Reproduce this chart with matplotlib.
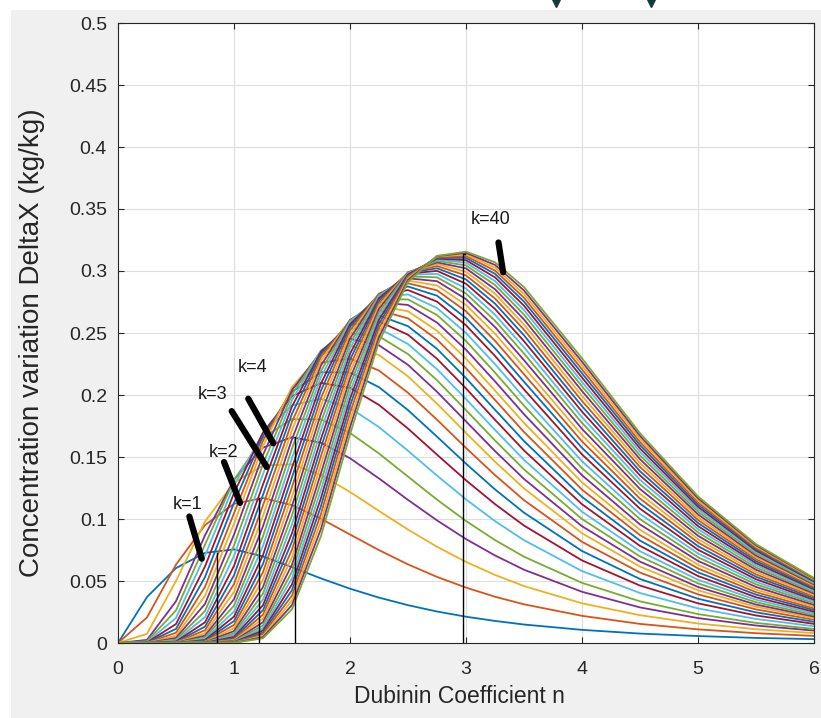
import numpy as np
import matplotlib
matplotlib.use("Agg")
import matplotlib.pyplot as plt
from matplotlib.lines import Line2D
from matplotlib.patches import Rectangle

# Dubinin coefficient n (x axis)
n_values = [0, 0.25, 0.5, 0.75, 1.0, 1.25, 1.5, 1.75, 2.0, 2.25, 2.5,
            2.75, 3.0, 3.25, 3.5, 4.0, 4.5, 5.0, 5.5, 6.0]

# concentration variation DeltaX (kg/kg) for k = 1 ... 40
dx_k01 = [0, 0.0371, 0.0604, 0.0727, 0.0755, 0.0698, 0.0611, 0.0521, 0.0438, 0.0366, 0.0305, 0.0254, 0.0212, 0.0178, 0.0149, 0.0106, 0.0076, 0.0056, 0.0041, 0.0031]
dx_k02 = [0, 0.0206, 0.0632, 0.0951, 0.1123, 0.1169, 0.1112, 0.1002, 0.0875, 0.0749, 0.0634, 0.0533, 0.0447, 0.0373, 0.0312, 0.0219, 0.0154, 0.0110, 0.0079, 0.0057]
dx_k03 = [0, 0.0074, 0.0500, 0.0980, 0.1294, 0.1431, 0.1441, 0.1354, 0.1218, 0.1065, 0.0915, 0.0776, 0.0654, 0.0549, 0.0459, 0.0320, 0.0224, 0.0157, 0.0111, 0.0080]
dx_k04 = [0, 0.0025, 0.0337, 0.0868, 0.1318, 0.1576, 0.1659, 0.1615, 0.1490, 0.1327, 0.1154, 0.0989, 0.0838, 0.0706, 0.0591, 0.0413, 0.0287, 0.0201, 0.0141, 0.0100]
dx_k05 = [0, 0.0014, 0.0263, 0.0793, 0.1314, 0.1656, 0.1805, 0.1803, 0.1694, 0.1528, 0.1342, 0.1156, 0.0984, 0.0830, 0.0696, 0.0485, 0.0336, 0.0233, 0.0162, 0.0113]
dx_k06 = [0, 0.0008, 0.0202, 0.0705, 0.1271, 0.1692, 0.1916, 0.1969, 0.1895, 0.1741, 0.1550, 0.1350, 0.1158, 0.0983, 0.0829, 0.0580, 0.0403, 0.0279, 0.0194, 0.0135]
dx_k07 = [0, 0.0004, 0.0153, 0.0617, 0.1209, 0.1698, 0.1991, 0.2097, 0.2058, 0.1920, 0.1729, 0.1519, 0.1312, 0.1120, 0.0947, 0.0666, 0.0463, 0.0320, 0.0222, 0.0154]
dx_k08 = [0, 0.0002, 0.0114, 0.0532, 0.1130, 0.1669, 0.2025, 0.2184, 0.2181, 0.2063, 0.1878, 0.1664, 0.1446, 0.1239, 0.1051, 0.0742, 0.0516, 0.0357, 0.0247, 0.0171]
dx_k09 = [0, 0.0001, 0.0083, 0.0453, 0.1047, 0.1632, 0.2049, 0.2260, 0.2294, 0.2197, 0.2018, 0.1801, 0.1573, 0.1354, 0.1152, 0.0816, 0.0568, 0.0392, 0.0271, 0.0187]
dx_k10 = [0, 0.0001, 0.0059, 0.0380, 0.0963, 0.1587, 0.2064, 0.2329, 0.2400, 0.2322, 0.2150, 0.1930, 0.1694, 0.1462, 0.1247, 0.0885, 0.0616, 0.0425, 0.0292, 0.0201]
dx_k11 = [0, 0, 0.0041, 0.0315, 0.0874, 0.1517, 0.2039, 0.2349, 0.2454, 0.2401, 0.2243, 0.2026, 0.1787, 0.1548, 0.1323, 0.0942, 0.0656, 0.0452, 0.0310, 0.0213]
dx_k12 = [0, 0, 0.0028, 0.0258, 0.0787, 0.1442, 0.2003, 0.2358, 0.2499, 0.2473, 0.2330, 0.2119, 0.1878, 0.1633, 0.1400, 0.1000, 0.0698, 0.0481, 0.0329, 0.0225]
dx_k13 = [0, 0, 0.0019, 0.0209, 0.0702, 0.1362, 0.1959, 0.2358, 0.2536, 0.2537, 0.2411, 0.2208, 0.1967, 0.1718, 0.1477, 0.1059, 0.0740, 0.0510, 0.0349, 0.0238]
dx_k14 = [0, 0, 0.0012, 0.0167, 0.0622, 0.1279, 0.1908, 0.2349, 0.2565, 0.2593, 0.2486, 0.2292, 0.2053, 0.1800, 0.1553, 0.1119, 0.0783, 0.0540, 0.0369, 0.0252]
dx_k15 = [0, 0, 0.0008, 0.0132, 0.0546, 0.1195, 0.1849, 0.2332, 0.2585, 0.2641, 0.2555, 0.2372, 0.2136, 0.1881, 0.1629, 0.1178, 0.0826, 0.0570, 0.0390, 0.0266]
dx_k16 = [0, 0, 0.0005, 0.0103, 0.0476, 0.1110, 0.1785, 0.2307, 0.2599, 0.2683, 0.2618, 0.2447, 0.2216, 0.1960, 0.1702, 0.1237, 0.0870, 0.0601, 0.0410, 0.0279]
dx_k17 = [0, 0, 0.0003, 0.0079, 0.0412, 0.1025, 0.1717, 0.2276, 0.2605, 0.2718, 0.2675, 0.2518, 0.2293, 0.2036, 0.1775, 0.1295, 0.0913, 0.0631, 0.0431, 0.0293]
dx_k18 = [0, 0, 0.0002, 0.0060, 0.0353, 0.0942, 0.1645, 0.2238, 0.2605, 0.2747, 0.2726, 0.2584, 0.2365, 0.2110, 0.1845, 0.1353, 0.0956, 0.0662, 0.0452, 0.0307]
dx_k19 = [0, 0, 0.0001, 0.0045, 0.0301, 0.0861, 0.1570, 0.2194, 0.2599, 0.2771, 0.2771, 0.2645, 0.2435, 0.2181, 0.1914, 0.1410, 0.0999, 0.0692, 0.0473, 0.0321]
dx_k20 = [0, 0, 0.0001, 0.0033, 0.0254, 0.0783, 0.1493, 0.2146, 0.2587, 0.2790, 0.2811, 0.2701, 0.2500, 0.2249, 0.1980, 0.1466, 0.1041, 0.0722, 0.0493, 0.0334]
dx_k21 = [0, 0, 0, 0.0024, 0.0213, 0.0709, 0.1416, 0.2093, 0.2570, 0.2803, 0.2846, 0.2753, 0.2562, 0.2315, 0.2045, 0.1521, 0.1083, 0.0752, 0.0514, 0.0348]
dx_k22 = [0, 0, 0, 0.0018, 0.0177, 0.0638, 0.1337, 0.2037, 0.2548, 0.2812, 0.2875, 0.2801, 0.2620, 0.2377, 0.2107, 0.1574, 0.1124, 0.0781, 0.0534, 0.0361]
dx_k23 = [0, 0, 0, 0.0012, 0.0146, 0.0572, 0.1259, 0.1977, 0.2521, 0.2817, 0.2901, 0.2844, 0.2675, 0.2437, 0.2167, 0.1626, 0.1164, 0.0810, 0.0553, 0.0374]
dx_k24 = [0, 0, 0, 0.0009, 0.0119, 0.0510, 0.1181, 0.1915, 0.2490, 0.2817, 0.2923, 0.2883, 0.2726, 0.2494, 0.2225, 0.1677, 0.1203, 0.0838, 0.0572, 0.0387]
dx_k25 = [0, 0, 0, 0.0006, 0.0096, 0.0452, 0.1105, 0.1850, 0.2455, 0.2813, 0.2941, 0.2918, 0.2773, 0.2548, 0.2281, 0.1727, 0.1242, 0.0865, 0.0591, 0.0399]
dx_k26 = [0, 0, 0, 0.0004, 0.0077, 0.0399, 0.1030, 0.1784, 0.2417, 0.2805, 0.2956, 0.2949, 0.2818, 0.2599, 0.2334, 0.1775, 0.1279, 0.0892, 0.0609, 0.0411]
dx_k27 = [0, 0, 0, 0.0003, 0.0062, 0.0350, 0.0957, 0.1716, 0.2376, 0.2795, 0.2969, 0.2977, 0.2859, 0.2648, 0.2385, 0.1821, 0.1316, 0.0918, 0.0627, 0.0422]
dx_k28 = [0, 0, 0, 0.0002, 0.0049, 0.0305, 0.0886, 0.1647, 0.2332, 0.2780, 0.2978, 0.3001, 0.2897, 0.2694, 0.2434, 0.1866, 0.1351, 0.0943, 0.0644, 0.0433]
dx_k29 = [0, 0, 0, 0.0001, 0.0038, 0.0265, 0.0818, 0.1578, 0.2285, 0.2763, 0.2984, 0.3022, 0.2932, 0.2737, 0.2481, 0.1910, 0.1385, 0.0968, 0.0660, 0.0443]
dx_k30 = [0, 0, 0, 0.0001, 0.0029, 0.0229, 0.0753, 0.1509, 0.2236, 0.2743, 0.2988, 0.3040, 0.2964, 0.2778, 0.2526, 0.1952, 0.1419, 0.0992, 0.0676, 0.0453]
dx_k31 = [0, 0, 0, 0, 0.0023, 0.0197, 0.0690, 0.1440, 0.2186, 0.2720, 0.2990, 0.3056, 0.2994, 0.2817, 0.2568, 0.1993, 0.1451, 0.1014, 0.0691, 0.0463]
dx_k32 = [0, 0, 0, 0, 0.0017, 0.0168, 0.0631, 0.1371, 0.2134, 0.2695, 0.2989, 0.3069, 0.3021, 0.2853, 0.2609, 0.2032, 0.1482, 0.1037, 0.0705, 0.0472]
dx_k33 = [0, 0, 0, 0, 0.0013, 0.0142, 0.0575, 0.1303, 0.2080, 0.2668, 0.2986, 0.3081, 0.3045, 0.2887, 0.2648, 0.2070, 0.1512, 0.1058, 0.0719, 0.0480]
dx_k34 = [0, 0, 0, 0, 0.0010, 0.0120, 0.0522, 0.1236, 0.2025, 0.2639, 0.2980, 0.3091, 0.3067, 0.2919, 0.2685, 0.2106, 0.1541, 0.1078, 0.0732, 0.0488]
dx_k35 = [0, 0, 0, 0, 0.0007, 0.0101, 0.0473, 0.1170, 0.1969, 0.2608, 0.2973, 0.3100, 0.3087, 0.2949, 0.2720, 0.2141, 0.1569, 0.1098, 0.0745, 0.0496]
dx_k36 = [0, 0, 0, 0, 0.0005, 0.0084, 0.0426, 0.1105, 0.1913, 0.2575, 0.2964, 0.3107, 0.3105, 0.2977, 0.2753, 0.2175, 0.1596, 0.1116, 0.0757, 0.0502]
dx_k37 = [0, 0, 0, 0, 0.0004, 0.0070, 0.0383, 0.1042, 0.1856, 0.2541, 0.2954, 0.3113, 0.3120, 0.3003, 0.2784, 0.2207, 0.1621, 0.1134, 0.0768, 0.0509]
dx_k38 = [0, 0, 0, 0, 0.0003, 0.0057, 0.0343, 0.0981, 0.1798, 0.2505, 0.2941, 0.3117, 0.3134, 0.3027, 0.2814, 0.2238, 0.1646, 0.1151, 0.0778, 0.0514]
dx_k39 = [0, 0, 0, 0, 0.0002, 0.0047, 0.0306, 0.0921, 0.1740, 0.2468, 0.2928, 0.3120, 0.3146, 0.3049, 0.2843, 0.2268, 0.1670, 0.1167, 0.0788, 0.0520]
dx_k40 = [0, 0, 0, 0, 0.0001, 0.0038, 0.0272, 0.0863, 0.1683, 0.2430, 0.2912, 0.3122, 0.3156, 0.3070, 0.2870, 0.2296, 0.1692, 0.1182, 0.0797, 0.0524]

curves = [dx_k01, dx_k02, dx_k03, dx_k04, dx_k05, dx_k06, dx_k07, dx_k08, dx_k09, dx_k10,
          dx_k11, dx_k12, dx_k13, dx_k14, dx_k15, dx_k16, dx_k17, dx_k18, dx_k19, dx_k20,
          dx_k21, dx_k22, dx_k23, dx_k24, dx_k25, dx_k26, dx_k27, dx_k28, dx_k29, dx_k30,
          dx_k31, dx_k32, dx_k33, dx_k34, dx_k35, dx_k36, dx_k37, dx_k38, dx_k39, dx_k40]

# vertical marker lines at the maxima (k=1, 2, 4 and 40)
peak_n = [0.856, 1.216, 1.526, 2.97]
peak_dx = [0.0727, 0.117, 0.166, 0.3135]

# hand drawn pointers and their labels
pointer_n = [(0.615, 0.722), (0.914, 1.052), (0.980, 1.282), (1.123, 1.339), (3.28, 3.32)]
pointer_dx = [(0.102, 0.068), (0.146, 0.113), (0.187, 0.142), (0.197, 0.161), (0.323, 0.299)]
label_text = ['k=1', 'k=2', 'k=3', 'k=4', 'k=40']
label_n = [0.603, 0.914, 0.816, 1.161, 3.216]
label_dx = [0.1115, 0.1535, 0.2003, 0.2219, 0.3417]

y_tick_labels = ['0', '0.05', '0.1', '0.15', '0.2', '0.25', '0.3', '0.35', '0.4', '0.45', '0.5']

# MATLAB default colour order
colors = ['#0072BD', '#D95319', '#EDB120', '#7E2F8E', '#77AC30', '#4DBEEE', '#A2142F']

fig = plt.figure(figsize=(8.21, 7.18), dpi=100)
fig.patch.set_facecolor('white')
fig.add_artist(Rectangle((11 / 821, 0), 1, 1 - 10 / 718, transform=fig.transFigure,
                         facecolor='#f0f0f0', edgecolor='none', zorder=-10))
ax = fig.add_axes([118 / 821, 1 - 643 / 718, 696 / 821, 620 / 718])
ax.set_facecolor('white')

for i, dx in enumerate(curves):
    ax.plot(n_values, dx, color=colors[i % 7], lw=1.3)

for xv, yv in zip(peak_n[:3], peak_dx[:3]):
    ax.plot([xv, xv], [0, yv], color='black', lw=1.0, zorder=4)
ax.plot([peak_n[3], peak_n[3], peak_n[3] + 0.02], [0, peak_dx[3], peak_dx[3]],
        color='black', lw=1.0, zorder=4)

for xs, ys in zip(pointer_n, pointer_dx):
    ax.plot(xs, ys, color='black', lw=4.5, solid_capstyle='round', zorder=6)
for s, xv, yv in zip(label_text, label_n, label_dx):
    ax.text(xv, yv, s, ha='center', va='center', fontsize=13, color='#1a1a1a',
            family='Liberation Sans', zorder=7)

ax.set_xlim(0, 6)
ax.set_ylim(0, 0.5)
ax.set_xticks(range(7))
ax.set_yticks(np.arange(0, 0.501, 0.05))
ax.set_yticklabels(y_tick_labels)
ax.grid(True, color='#dedede', lw=0.8)
ax.set_axisbelow(True)
ax.tick_params(direction='in', length=4.5, width=0.8, top=True, right=True,
               colors='#262626', labelsize=14, pad=8)
ax.tick_params(axis='x', pad=13)
for tl in ax.get_xticklabels() + ax.get_yticklabels():
    tl.set_family('Liberation Sans')
for s in ax.spines.values():
    s.set_color('#262626')
    s.set_linewidth(0.8)
ax.set_xlabel('Dubinin Coefficient n', fontsize=16.5, family='Liberation Sans', color='#262626')
ax.set_ylabel('Concentration variation DeltaX (kg/kg)', fontsize=20, family='Liberation Sans',
              color='#262626')
ax.xaxis.set_label_coords(0.49, -0.068)
ax.yaxis.set_label_coords(-0.105, 0.484)

# two cut-off arrow heads at the top edge of the screenshot
for xf in (556, 651):
    fig.add_artist(Line2D([xf / 821], [1 - 2 / 718], marker='v', color='#16393b',
                          markersize=7, transform=fig.transFigure))

fig.savefig('out.png', dpi=100)
